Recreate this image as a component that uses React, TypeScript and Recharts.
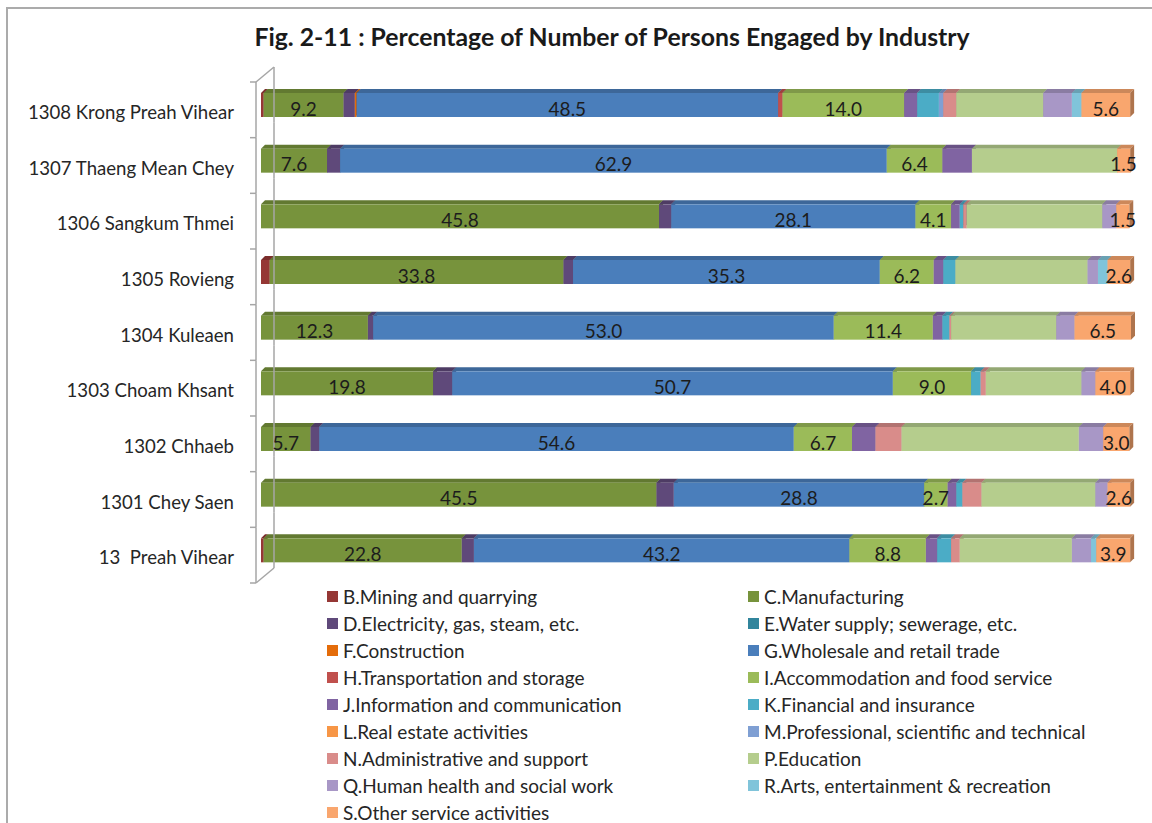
import { BarChart, Bar, XAxis, YAxis, Legend, LabelList } from 'recharts'

const categories = [
  '1308 Krong Preah Vihear',
  '1307 Thaeng Mean Chey',
  '1306 Sangkum Thmei',
  '1305 Rovieng',
  '1304 Kuleaen',
  '1303 Choam Khsant',
  '1302 Chhaeb',
  '1301 Chey Saen',
  '13  Preah Vihear',
]

// percentages per district, top row first
const mining = [0.3, 0, 0, 1.0, 0, 0, 0, 0, 0.3]
const manufacturing = [9.2, 7.6, 45.8, 33.8, 12.3, 19.8, 5.7, 45.5, 22.8]
const electricity = [1.3, 1.5, 1.4, 1.1, 0.6, 2.2, 1.0, 2.0, 1.4]
const water = [0, 0, 0, 0, 0, 0, 0, 0, 0]
const construction = [0.2, 0, 0, 0, 0, 0, 0, 0, 0]
const wholesale = [48.5, 62.9, 28.1, 35.3, 53.0, 50.7, 54.6, 28.8, 43.2]
const transport = [0.5, 0, 0, 0, 0, 0, 0, 0, 0]
const accommodation = [14.0, 6.4, 4.1, 6.2, 11.4, 9.0, 6.7, 2.7, 8.8]
const information = [1.5, 3.4, 1.0, 1.1, 1.1, 0, 2.7, 1.0, 1.3]
const financial = [2.5, 0, 0.4, 1.4, 0.8, 1.1, 0, 0.7, 1.6]
const realEstate = [0, 0, 0, 0, 0, 0, 0, 0, 0]
const professional = [0.5, 0, 0, 0, 0, 0, 0, 0, 0]
const administrative = [1.5, 0, 0.4, 0, 0.2, 0.6, 3.0, 2.2, 1.0]
const education = [10.0, 16.7, 15.6, 15.2, 12.1, 11.0, 20.4, 13.1, 12.9]
const health = [3.3, 0, 1.6, 1.2, 2.1, 1.6, 2.8, 1.4, 2.2]
const arts = [1.1, 0, 0, 1.1, 0, 0, 0, 0, 0.6]
const otherService = [5.6, 1.5, 1.5, 2.6, 6.5, 4.0, 3.0, 2.6, 3.9]

const series = [
  { key: 'B', name: 'B.Mining and quarrying', color: '#953735', values: mining, labelled: false },
  { key: 'C', name: 'C.Manufacturing', color: '#77933C', values: manufacturing, labelled: true },
  { key: 'D', name: 'D.Electricity, gas, steam, etc.', color: '#5F497A', values: electricity, labelled: false },
  { key: 'E', name: 'E.Water supply; sewerage, etc.', color: '#31859C', values: water, labelled: false },
  { key: 'F', name: 'F.Construction', color: '#E46C0A', values: construction, labelled: false },
  { key: 'G', name: 'G.Wholesale and retail trade', color: '#4A7EBB', values: wholesale, labelled: true },
  { key: 'H', name: 'H.Transportation and storage', color: '#C0504D', values: transport, labelled: false },
  { key: 'I', name: 'I.Accommodation and food service', color: '#9BBB59', values: accommodation, labelled: true },
  { key: 'J', name: 'J.Information and communication', color: '#8064A2', values: information, labelled: false },
  { key: 'K', name: 'K.Financial and insurance', color: '#4BACC6', values: financial, labelled: false },
  { key: 'L', name: 'L.Real estate activities', color: '#F79646', values: realEstate, labelled: false },
  { key: 'M', name: 'M.Professional, scientific and technical', color: '#7F9FD3', values: professional, labelled: false },
  { key: 'N', name: 'N.Administrative and support', color: '#D98C8A', values: administrative, labelled: false },
  { key: 'P', name: 'P.Education', color: '#B5CD8D', values: education, labelled: false },
  { key: 'Q', name: 'Q.Human health and social work', color: '#A897C6', values: health, labelled: false },
  { key: 'R', name: 'R.Arts, entertainment & recreation', color: '#80C4DA', values: arts, labelled: false },
  { key: 'S', name: 'S.Other service activities', color: '#F9A66E', values: otherService, labelled: true },
]

const data = categories.map((name, i) => {
  const row: Record<string, string | number> = { name }
  series.forEach((s) => (row[s.key] = s.values[i]))
  return row
})

const W = 1152
const H = 823
const M = { top: 77, right: 21, bottom: 245, left: 0 }
const AXIS_W = 261
const HALF_BAND = (H - M.top - M.bottom) / categories.length / 2
const FONT = 'Lato, "Open Sans", sans-serif'

function shade(hex: string, f: number) {
  const n = parseInt(hex.slice(1), 16)
  const r = Math.round(((n >> 16) & 255) * f)
  const g = Math.round(((n >> 8) & 255) * f)
  const b = Math.round((n & 255) * f)
  return `rgb(${r},${g},${b})`
}

// front face + top + right side, excel-ish 3d look
const Bar3D = (props: any) => {
  const { x, y, width, height, fill } = props
  if (!width || width <= 0.3) return null
  const d = 4
  return (
    <g>
      <polygon
        points={`${x},${y} ${x + d},${y - d} ${x + width + d},${y - d} ${x + width},${y}`}
        fill={shade(fill, 0.82)}
      />
      <polygon
        points={`${x + width},${y} ${x + width + d},${y - d} ${x + width + d},${y + height - d} ${x + width},${y + height}`}
        fill={shade(fill, 0.7)}
      />
      <rect x={x} y={y} width={width} height={height} fill={fill} />
    </g>
  )
}

const ValueLabel = (props: any) => {
  const { x, y, width, height, value } = props
  if (!value) return null
  return (
    <text
      x={x + width / 2}
      y={y + height / 2 + 3}
      textAnchor="middle"
      dominantBaseline="central"
      fontSize={19}
      fontFamily={FONT}
      fill="#1c1c1c"
    >
      {Number(value).toFixed(1)}
    </text>
  )
}

// category label plus the slice of the 3d wall that belongs to this band
const WallTick = (props: any) => {
  const { y, payload, index } = props
  const front = AXIS_W - 5
  const back = AXIS_W + 13
  const top = y - HALF_BAND + 5
  const bottom = y + HALF_BAND + 5
  const last = index === categories.length - 1
  const stroke = '#A6A6A6'
  return (
    <g>
      <line x1={front} y1={top} x2={front} y2={bottom} stroke={stroke} strokeWidth={1.5} />
      <line x1={back} y1={top - 15} x2={back} y2={bottom - 15} stroke={stroke} strokeWidth={1.5} />
      <line x1={front - 6} y1={top} x2={front} y2={top} stroke={stroke} strokeWidth={1.5} />
      {index === 0 && <line x1={front} y1={top} x2={back} y2={top - 15} stroke={stroke} strokeWidth={1.5} />}
      {last && <line x1={front - 6} y1={bottom} x2={front} y2={bottom} stroke={stroke} strokeWidth={1.5} />}
      {last && <line x1={front} y1={bottom} x2={back} y2={bottom - 15} stroke={stroke} strokeWidth={1.5} />}
      <text
        x={234}
        y={y + 7}
        textAnchor="end"
        dominantBaseline="central"
        fontSize={18.6}
        fontFamily={FONT}
        fill="#262626"
        style={{ whiteSpace: 'pre' }}
      >
        {payload.value}
      </text>
    </g>
  )
}

const LegendGrid = (props: any) => {
  const items = props.payload || []
  return (
    <div style={{ display: 'grid', gridTemplateColumns: '421px 421px', fontFamily: FONT }}>
      {items.map((it: any) => (
        <div key={it.value} style={{ display: 'flex', alignItems: 'center', height: 27, fontSize: 19, color: '#262626' }}>
          <span style={{ width: 11, height: 11, background: it.color, marginRight: 5, flexShrink: 0 }} />
          <span style={{ whiteSpace: 'nowrap' }}>{it.value}</span>
        </div>
      ))}
    </div>
  )
}

export default function App() {
  return (
    <div style={{ position: 'absolute', left: 0, top: 0, width: W, height: H, overflow: 'hidden', background: '#fff' }}>
      <div
        style={{
          position: 'absolute',
          left: 6,
          top: 7,
          width: W + 20,
          height: H + 20,
          borderTop: '2px solid #ABABAB',
          borderLeft: '2px solid #ABABAB',
        }}
      />
      <div
        style={{
          position: 'absolute',
          top: 22,
          left: 0,
          width: 1224,
          textAlign: 'center',
          fontFamily: FONT,
          fontWeight: 'bold',
          fontSize: 24.8,
          color: '#1a1a1a',
        }}
      >
        Fig. 2-11 : Percentage of Number of Persons Engaged by Industry
      </div>
      <div style={{ position: 'absolute', left: 0, top: 0 }}>
        <BarChart width={W} height={H} data={data} layout="vertical" margin={M} barSize={24}>
          <XAxis type="number" domain={[0, 100]} hide />
          <YAxis
            type="category"
            dataKey="name"
            width={AXIS_W}
            interval={0}
            tickLine={false}
            axisLine={false}
            tick={(p: any) => <WallTick {...p} />}
          />
          <Legend
            layout="horizontal"
            verticalAlign="middle"
            align="center"
            content={<LegendGrid />}
            wrapperStyle={{ position: 'absolute', top: 583, left: 327, width: 860 }}
          />
          {series.map((s) => (
            <Bar
              key={s.key}
              dataKey={s.key}
              name={s.name}
              stackId="a"
              fill={s.color}
              shape={<Bar3D />}
              isAnimationActive={false}
            >
              {s.labelled && <LabelList dataKey={s.key} content={<ValueLabel />} />}
            </Bar>
          ))}
        </BarChart>
      </div>
    </div>
  )
}
